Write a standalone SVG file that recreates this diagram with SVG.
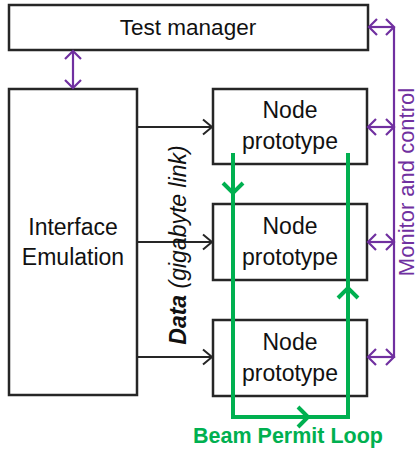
<svg xmlns="http://www.w3.org/2000/svg" width="419" height="454" viewBox="0 0 419 454">
  <style>
    .box { fill: #fff; stroke: #262626; stroke-width: 2.5; }
    .lbl { font-family: "Liberation Sans", Arial, sans-serif; font-size: 23px; fill: #111; text-anchor: middle; }
    .data { stroke: #262626; stroke-width: 2; fill: none; marker-end: url(#blk); }
    .mon { stroke: #7030A0; stroke-width: 2.2; fill: none; }
    .dbl { marker-start: url(#pur); marker-end: url(#pur); }
    .loop { stroke: #00B050; stroke-width: 4; fill: none; }
  </style>
  <defs>
    <marker id="blk" markerUnits="userSpaceOnUse" viewBox="0 0 12 20" markerWidth="12" markerHeight="20" refX="10" refY="10" orient="auto">
      <path d="M1,2.5 L10,10 L1,17.5" fill="none" stroke="#262626" stroke-width="2"/>
    </marker>
    <marker id="pur" markerUnits="userSpaceOnUse" viewBox="0 0 12 20" markerWidth="12" markerHeight="20" refX="10" refY="10" orient="auto-start-reverse">
      <path d="M2,2 L10,10 L2,18" fill="none" stroke="#7030A0" stroke-width="2.2"/>
    </marker>
  </defs>

  <g id="test-manager">
    <rect class="box" x="9" y="5" width="359" height="45"/>
    <text class="lbl" x="188" y="35" style="font-size:22.5px">Test manager</text>
  </g>
  <g id="interface-emulation">
    <rect class="box" x="9" y="89" width="128" height="306"/>
    <text class="lbl" x="73" y="235">Interface</text>
    <text class="lbl" x="73" y="265">Emulation</text>
  </g>
  <g id="node1">
    <rect class="box" x="213" y="89" width="154" height="75"/>
    <text class="lbl" x="290" y="118">Node</text>
    <text class="lbl" x="290" y="149">prototype</text>
  </g>
  <g id="node2">
    <rect class="box" x="213" y="204" width="154" height="76"/>
    <text class="lbl" x="290" y="234">Node</text>
    <text class="lbl" x="290" y="265">prototype</text>
  </g>
  <g id="node3">
    <rect class="box" x="213" y="320" width="154" height="76"/>
    <text class="lbl" x="290" y="350">Node</text>
    <text class="lbl" x="290" y="381">prototype</text>
  </g>

  <g id="connectors">
    <line class="mon dbl" x1="73" y1="51" x2="73" y2="88"/>
    <line class="data" x1="137" y1="127" x2="212" y2="127"/>
    <line class="data" x1="137" y1="242" x2="212" y2="242"/>
    <line class="data" x1="137" y1="357" x2="212" y2="357"/>
    <line class="mon" x1="394" y1="27" x2="394" y2="358"/>
    <line class="mon dbl" x1="369" y1="27" x2="394" y2="27"/>
    <line class="mon dbl" x1="368" y1="127" x2="394" y2="127"/>
    <line class="mon dbl" x1="368" y1="242" x2="394" y2="242"/>
    <line class="mon dbl" x1="368" y1="357" x2="394" y2="357"/>
    <path class="loop" d="M233,153 L233,417 L348,417 L348,153"/>
    <path class="loop" d="M223,183 L233,193 L243,183"/>
    <path class="loop" d="M338,298 L348,288 L358,298"/>
    <path class="loop" d="M298,407 L308,417 L298,427"/>
  </g>

  <g id="labels">
    <text transform="translate(186,245) rotate(-90)" style="font-family:'Liberation Sans', Arial, sans-serif; font-size:23px; font-style:italic; fill:#111; text-anchor:middle"><tspan font-weight="bold">Data</tspan> (gigabyte link)</text>
    <text transform="translate(414,182) rotate(-90)" style="font-family:'Liberation Sans', Arial, sans-serif; font-size:22px; fill:#7030A0; text-anchor:middle">Monitor and control</text>
    <text x="288" y="443" style="font-family:'Liberation Sans', Arial, sans-serif; font-size:21.5px; font-weight:bold; fill:#00B050; text-anchor:middle">Beam Permit Loop</text>
  </g>
</svg>
